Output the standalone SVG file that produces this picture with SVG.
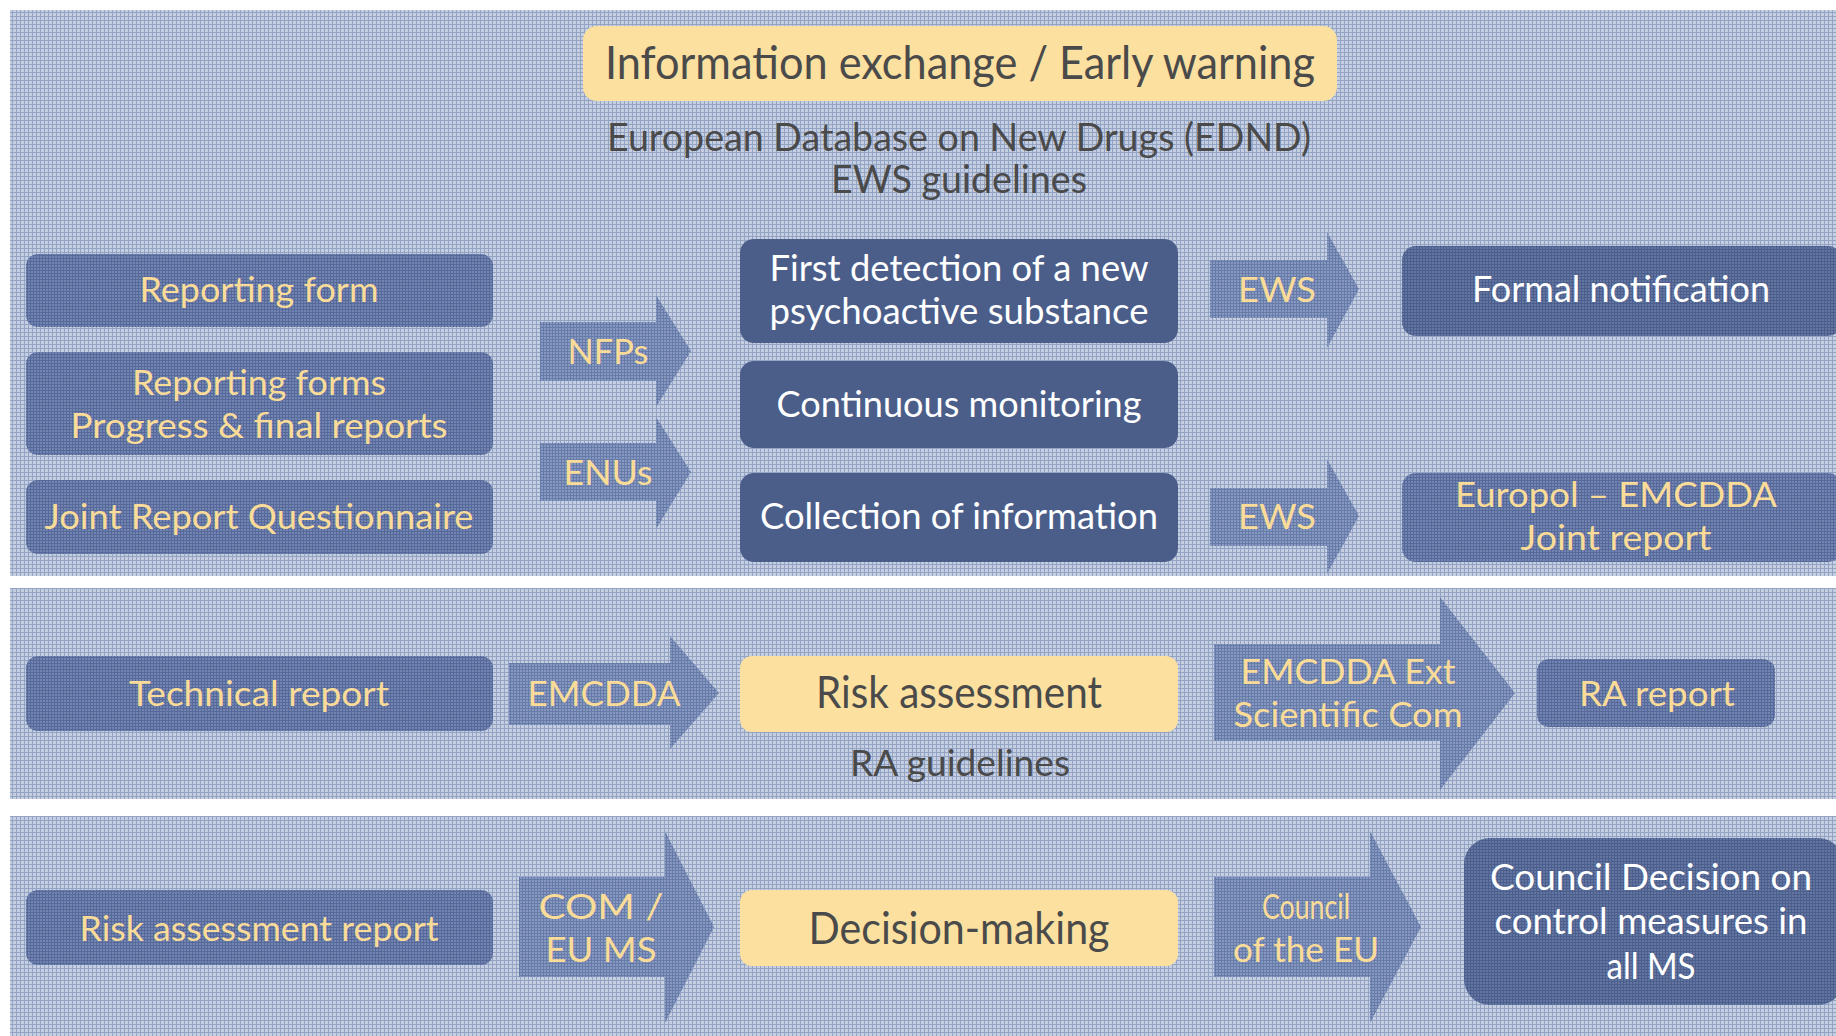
<svg xmlns="http://www.w3.org/2000/svg" width="1836" height="1036" viewBox="0 0 1836 1036">
<defs>
<pattern id="pBg" width="4" height="4" patternUnits="userSpaceOnUse">
<rect width="4" height="4" fill="#c6cfe2"/>
<rect width="1" height="4" fill="#93a3c4"/>
<rect width="4" height="1" fill="#93a3c4"/>
</pattern>
<pattern id="pMid" width="3" height="3" patternUnits="userSpaceOnUse">
<rect width="3" height="3" fill="#7185b0"/>
<rect width="1" height="3" fill="#56699a"/>
<rect width="3" height="1" fill="#56699a"/>
</pattern>
<pattern id="pDark" width="3" height="3" patternUnits="userSpaceOnUse">
<rect width="3" height="3" fill="#63769f"/>
<rect width="1" height="3" fill="#4b5e8d"/>
<rect width="3" height="1" fill="#4b5e8d"/>
</pattern>
<pattern id="pArrow" width="3" height="3" patternUnits="userSpaceOnUse">
<rect width="3" height="3" fill="#8799c0"/>
<rect width="1" height="3" fill="#677ba8"/>
<rect width="3" height="1" fill="#677ba8"/>
</pattern>
<style>
text{font-family:Lato,"Open Sans","Liberation Sans",sans-serif;text-anchor:middle}
.panel{fill:url(#pBg)}
.mid{fill:url(#pMid)}
.dk{fill:url(#pDark)}
.solid{fill:#4b5e8a}
.yel{fill:#fbe0a0}
.arr{fill:url(#pArrow)}
.ty{fill:#fadc98;font-size:34px}
.tw{fill:#ffffff;font-size:37px}
.tg{fill:#4a4a4a}
</style>
</defs>
<rect width="1836" height="1036" fill="#ffffff"/>
<g id="panels">
<rect class="panel" x="10" y="10" width="1826" height="566"/>
<rect class="panel" x="10" y="588" width="1826" height="211"/>
<rect class="panel" x="10" y="816" width="1826" height="220"/>
</g>
<g id="connectors">
<g id="a-nfps"><polygon class="arr" points="540,322 656,322 656,295 691,351 656,407 656,381 540,381"/><text class="ty" x="608" y="364" textLength="81" lengthAdjust="spacingAndGlyphs">NFPs</text></g>
<g id="a-enus"><polygon class="arr" points="540,443 656,443 656,417 691,472 656,529 656,501 540,501"/><text class="ty" x="608" y="485" textLength="89" lengthAdjust="spacingAndGlyphs">ENUs</text></g>
<g id="a-ews1"><polygon class="arr" points="1210,260 1327,260 1327,232 1359,289 1327,348 1327,318 1210,318"/><text class="ty" x="1277" y="302" textLength="78" lengthAdjust="spacingAndGlyphs">EWS</text></g>
<g id="a-ews2"><polygon class="arr" points="1210,488 1327,488 1327,459 1359,516 1327,574 1327,546 1210,546"/><text class="ty" x="1277" y="529" textLength="78" lengthAdjust="spacingAndGlyphs">EWS</text></g>
<g id="a-emcdda"><polygon class="arr" points="509,663 670,663 670,636 719,693 670,749 670,725 509,725"/><text class="ty" x="604" y="706" textLength="153" lengthAdjust="spacingAndGlyphs">EMCDDA</text></g>
<g id="a-ext"><polygon class="arr" points="1214,644 1440,644 1440,597 1515,693 1440,790 1440,741 1214,741"/><text class="ty" x="1348" y="684" textLength="215" lengthAdjust="spacingAndGlyphs">EMCDDA Ext</text><text class="ty" x="1348" y="727" textLength="229" lengthAdjust="spacingAndGlyphs">Scientific Com</text></g>
<g id="a-com"><polygon class="arr" points="519,877 665,877 665,831 714,927 665,1023 665,977 519,977"/><text class="ty" x="601" y="919" textLength="125" lengthAdjust="spacingAndGlyphs">COM /</text><text class="ty" x="601" y="962" textLength="111" lengthAdjust="spacingAndGlyphs">EU MS</text></g>
<g id="a-council"><polygon class="arr" points="1214,877 1370,877 1370,831 1421,927 1370,1023 1370,977 1214,977"/><text class="ty" x="1306" y="919" textLength="88" lengthAdjust="spacingAndGlyphs">Council</text><text class="ty" x="1306" y="962" textLength="146" lengthAdjust="spacingAndGlyphs">of the EU</text></g>
</g>
<g id="n-title"><rect class="yel" x="583" y="26" width="754" height="75" rx="14"/><text class="tg" x="960" y="79" font-size="46" textLength="710" lengthAdjust="spacingAndGlyphs">Information exchange / Early warning</text></g>
<g id="n-edn"><text class="tg" x="959" y="151" font-size="39" textLength="704" lengthAdjust="spacingAndGlyphs">European Database on New Drugs (EDND)</text><text class="tg" x="959" y="193" font-size="39" textLength="256" lengthAdjust="spacingAndGlyphs">EWS guidelines</text></g>
<g id="n-rf"><rect class="mid" x="26" y="254" width="467" height="73" rx="12"/><text class="ty" x="259" y="302" textLength="239" lengthAdjust="spacingAndGlyphs">Reporting form</text></g>
<g id="n-rfs"><rect class="mid" x="26" y="352" width="467" height="103" rx="12"/><text class="ty" x="259" y="395" textLength="254" lengthAdjust="spacingAndGlyphs">Reporting forms</text><text class="ty" x="259" y="438" textLength="377" lengthAdjust="spacingAndGlyphs">Progress &amp; final reports</text></g>
<g id="n-jrq"><rect class="mid" x="26" y="480" width="467" height="74" rx="12"/><text class="ty" x="259" y="529" textLength="429" lengthAdjust="spacingAndGlyphs">Joint Report Questionnaire</text></g>
<g id="n-first"><rect class="solid" x="740" y="239" width="438" height="104" rx="14"/><text class="tw" x="959" y="281" textLength="379" lengthAdjust="spacingAndGlyphs">First detection of a new</text><text class="tw" x="959" y="324" textLength="379" lengthAdjust="spacingAndGlyphs">psychoactive substance</text></g>
<g id="n-cont"><rect class="solid" x="740" y="361" width="438" height="87" rx="14"/><text class="tw" x="959" y="417" textLength="365" lengthAdjust="spacingAndGlyphs">Continuous monitoring</text></g>
<g id="n-coll"><rect class="solid" x="740" y="473" width="438" height="89" rx="14"/><text class="tw" x="959" y="529" textLength="398" lengthAdjust="spacingAndGlyphs">Collection of information</text></g>
<g id="n-formal"><rect class="dk" x="1402" y="246" width="440" height="90" rx="14"/><text class="tw" x="1621" y="302" textLength="298" lengthAdjust="spacingAndGlyphs">Formal notification</text></g>
<g id="n-europol"><rect class="mid" x="1402" y="473" width="440" height="89" rx="14"/><text class="ty" x="1616" y="507" textLength="322" lengthAdjust="spacingAndGlyphs">Europol – EMCDDA</text><text class="ty" x="1616" y="550" textLength="191" lengthAdjust="spacingAndGlyphs">Joint report</text></g>
<g id="n-tech"><rect class="mid" x="26" y="656" width="467" height="75" rx="12"/><text class="ty" x="259" y="706" textLength="260" lengthAdjust="spacingAndGlyphs">Technical report</text></g>
<g id="n-ra"><rect class="yel" x="740" y="656" width="438" height="76" rx="12"/><text class="tg" x="959" y="708" font-size="44" textLength="286" lengthAdjust="spacingAndGlyphs">Risk assessment</text></g>
<g id="n-rag"><text class="tg" x="960" y="776" font-size="37" textLength="220" lengthAdjust="spacingAndGlyphs">RA guidelines</text></g>
<g id="n-rarep"><rect class="mid" x="1537" y="659" width="238" height="68" rx="12"/><text class="ty" x="1657" y="706" textLength="156" lengthAdjust="spacingAndGlyphs">RA report</text></g>
<g id="n-rar"><rect class="mid" x="26" y="890" width="467" height="75" rx="12"/><text class="ty" x="259" y="941" textLength="359" lengthAdjust="spacingAndGlyphs">Risk assessment report</text></g>
<g id="n-dm"><rect class="yel" x="740" y="890" width="438" height="76" rx="12"/><text class="tg" x="959" y="944" font-size="44" textLength="301" lengthAdjust="spacingAndGlyphs">Decision-making</text></g>
<g id="n-cd"><rect class="dk" x="1464" y="838" width="380" height="167" rx="26"/><text class="tw" x="1651" y="890" textLength="322" lengthAdjust="spacingAndGlyphs">Council Decision on</text><text class="tw" x="1651" y="934" textLength="313" lengthAdjust="spacingAndGlyphs">control measures in</text><text class="tw" x="1651" y="979" textLength="89" lengthAdjust="spacingAndGlyphs">all MS</text></g>
</svg>
